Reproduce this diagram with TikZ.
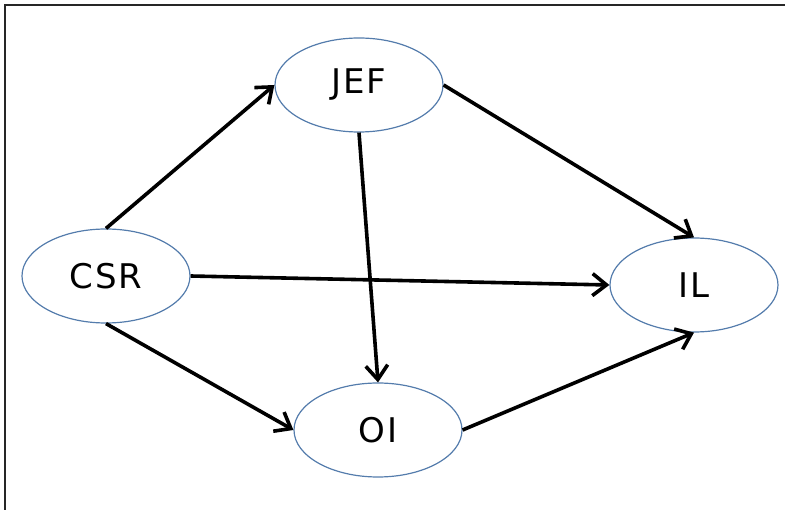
\documentclass[tikz,border=0pt]{standalone}
\usepackage{fontspec}
\setmainfont[LetterSpace=6]{DejaVu Sans}
\usetikzlibrary{shapes.geometric,arrows.meta}
\definecolor{ellblue}{RGB}{84,124,172}
\tikzset{
  ell/.style={ellipse, draw=ellblue, line width=1.2pt, minimum width=168pt, minimum height=94pt, inner sep=0pt, font=\fontsize{34}{38}\selectfont},
  conn/.style={line width=3.6pt, -{Straight Barb[length=14pt,width=22pt,line width=3.6pt]}}
}
\begin{document}
\begin{tikzpicture}[x=1pt,y=-1pt]
\useasboundingbox (0,0) rectangle (785,510);
\draw[line width=2.4pt, black!85] (5,510) -- (5,5) -- (785,5);
\node[ell] (jef) at (359,85) {JEF};
\node[ell] (csr) at (106,276) {CSR};
\node[ell] (il) at (694,285) {IL};
\node[ell] (oi) at (378,430) {OI};
\draw[conn] (csr.north) -- (jef.west);
\draw[conn] (jef.east) -- (il.north);
\draw[conn] (jef.south) -- (oi.north);
\draw[conn] (csr.east) -- (il.west);
\draw[conn] (csr.south) -- (oi.west);
\draw[conn] (oi.east) -- (il.south);
\end{tikzpicture}
\end{document}
